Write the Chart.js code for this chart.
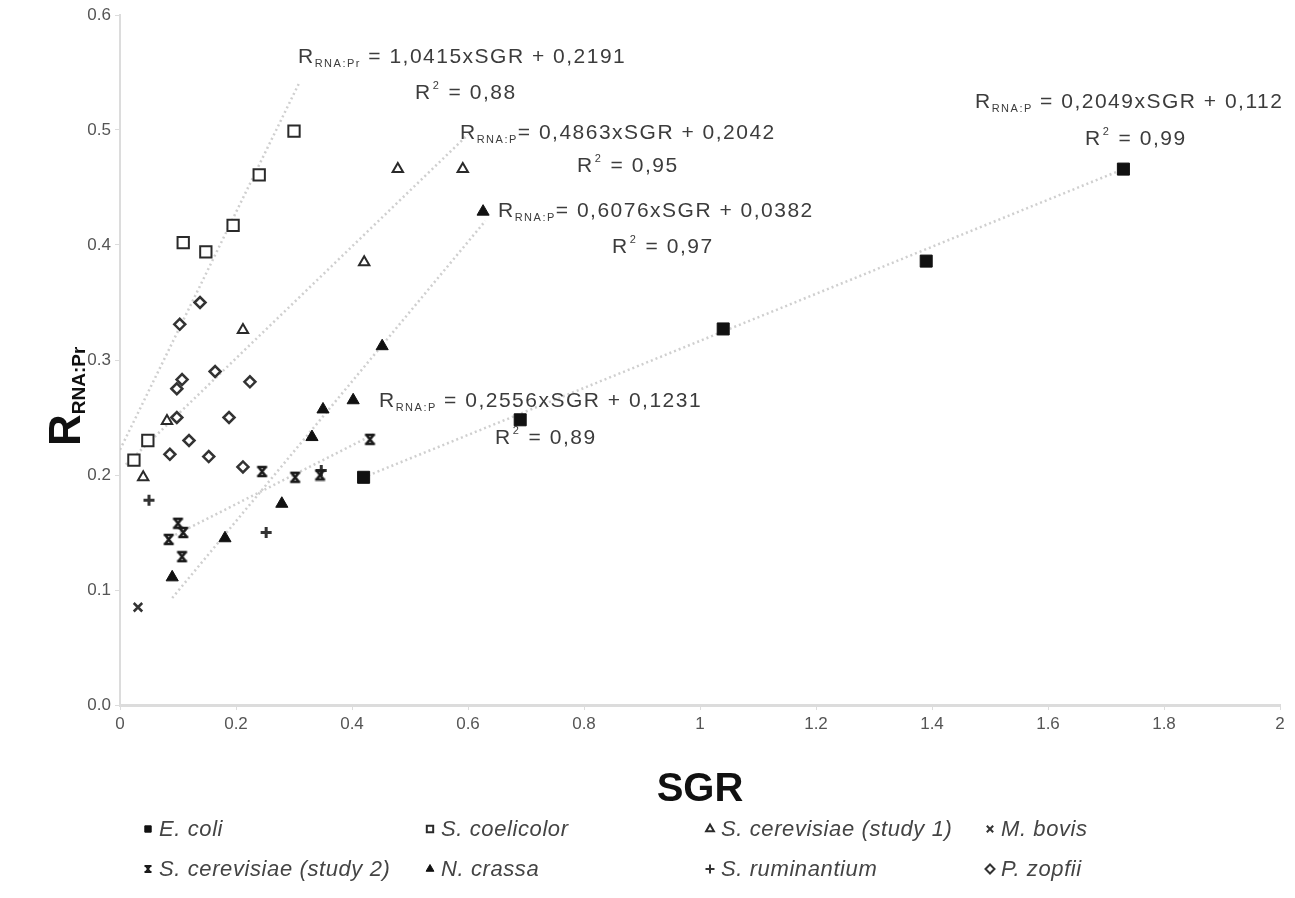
<!DOCTYPE html>
<html>
<head>
<meta charset="utf-8">
<script src="https://cdn.jsdelivr.net/npm/chart.js@4.4.1/dist/chart.umd.min.js"></script>
<style>
html,body{margin:0;padding:0;background:#fff;}
#wrap{width:1295px;height:898px;position:relative;}
</style>
</head>
<body>
<div id="wrap"><canvas id="chart"></canvas></div>
<script>
// values: [SGR, R_RNA:Pr]
const eColi = [[0.42,0.198],[0.69,0.248],[1.04,0.327],[1.39,0.386],[1.73,0.466]];
const sCoelicolor = [[0.024,0.213],[0.048,0.230],[0.109,0.402],[0.148,0.394],[0.195,0.417],[0.240,0.461],[0.300,0.499]];
const sCerevisiae1 = [[0.040,0.198],[0.081,0.247],[0.212,0.326],[0.421,0.385],[0.479,0.466],[0.591,0.466]];
const mBovis = [[0.031,0.085]];
const sCerevisiae2 = [[0.084,0.144],[0.100,0.158],[0.109,0.150],[0.107,0.129],[0.245,0.203],[0.302,0.198],[0.345,0.200],[0.431,0.231]];
const nCrassa = [[0.090,0.111],[0.181,0.145],[0.279,0.175],[0.331,0.233],[0.350,0.257],[0.402,0.265],[0.452,0.312],[0.626,0.429]];
const sRuminantium = [[0.050,0.178],[0.252,0.150],[0.347,0.204]];
const pZopfii = [[0.103,0.331],[0.138,0.350],[0.164,0.290],[0.224,0.281],[0.107,0.283],[0.098,0.275],[0.098,0.250],[0.188,0.250],[0.119,0.230],[0.086,0.218],[0.153,0.216],[0.212,0.207]];

// dotted trend lines, end points
const trendCoelicolor = [[0.0,0.222],[0.31,0.542]];
const trendCerevisiae1 = [[0.01,0.209],[0.60,0.496]];
const trendCrassa = [[0.09,0.093],[0.63,0.421]];
const trendCerevisiae2 = [[0.08,0.144],[0.44,0.236]];
const trendColi = [[0.42,0.198],[1.74,0.468]];

const seriesNames = ['E. coli','S. coelicolor','S. cerevisiae (study 1)','M. bovis','S. cerevisiae (study 2)','N. crassa','S. ruminantium','P. zopfii'];

const xTicks = [0,0.2,0.4,0.6,0.8,1,1.2,1.4,1.6,1.8,2];
const xTickLabels = ['0','0.2','0.4','0.6','0.8','1','1.2','1.4','1.6','1.8','2'];
const yTicks = [0,0.1,0.2,0.3,0.4,0.5,0.6];
const yTickLabels = ['0.0','0.1','0.2','0.3','0.4','0.5','0.6'];

const eqSubs = ['RNA:Pr','RNA:P','RNA:P','RNA:P','RNA:P'];
const eqRight = [' = 1,0415xSGR + 0,2191','= 0,4863xSGR + 0,2042','= 0,6076xSGR + 0,0382',' = 0,2556xSGR + 0,1231',' = 0,2049xSGR + 0,112'];
const r2Values = [' = 0,88',' = 0,95',' = 0,97',' = 0,89',' = 0,99'];

const FONT = '"Liberation Sans", Arial, sans-serif';

function hourglass(size){
  const c=document.createElement('canvas');
  c.width=size;c.height=size;
  const g=c.getContext('2d');
  const m=1.5, s=size-1.5;
  g.strokeStyle='#1a1a1a';g.fillStyle='#1a1a1a';
  g.lineWidth=size/5;
  g.beginPath();
  g.moveTo(m,m+0.5);g.lineTo(s,m+0.5);
  g.moveTo(m,s-0.5);g.lineTo(s,s-0.5);
  g.moveTo(m+1,m);g.lineTo(s-1,s);
  g.moveTo(s-1,m);g.lineTo(m+1,s);
  g.stroke();
  return c;
}
const hgBig = hourglass(13);
const hgSmall = hourglass(10);

const toPts = arr => arr.map(p=>({x:p[0],y:p[1]}));

const styles = [
  {pointStyle:'rect',pointRadius:8.5,backgroundColor:'#111',borderColor:'#111',borderWidth:1},
  {pointStyle:'rect',pointRadius:8,backgroundColor:'#fff',borderColor:'#2a2a2a',borderWidth:2},
  {pointStyle:'triangle',pointRadius:6,backgroundColor:'#fff',borderColor:'#2a2a2a',borderWidth:2},
  {pointStyle:'crossRot',pointRadius:6,backgroundColor:'#333',borderColor:'#333',borderWidth:2.5},
  {pointStyle:hgBig,pointRadius:6,backgroundColor:'#111',borderColor:'#111',borderWidth:1},
  {pointStyle:'triangle',pointRadius:7,backgroundColor:'#111',borderColor:'#111',borderWidth:1},
  {pointStyle:'cross',pointRadius:5.5,backgroundColor:'#333',borderColor:'#333',borderWidth:3},
  {pointStyle:'rectRot',pointRadius:5.5,backgroundColor:'#fff',borderColor:'#333',borderWidth:2.5}
];
const seriesData = [eColi,sCoelicolor,sCerevisiae1,mBovis,sCerevisiae2,nCrassa,sRuminantium,pZopfii];

const datasets = seriesData.map((d,i)=>Object.assign({
  type:'scatter',label:seriesNames[i],data:toPts(d),order:1
},styles[i]));

[trendCoelicolor,trendCerevisiae1,trendCrassa,trendCerevisiae2,trendColi].forEach(t=>{
  datasets.push({
    type:'line',label:'trend',data:toPts(t),order:5,
    borderColor:'rgba(195,195,195,0.8)',borderWidth:2.5,borderDash:[2,3],
    pointRadius:0,fill:false,tension:0
  });
});

function drawEq(ctx,x,y,sub,rest){
  ctx.textAlign='left';ctx.textBaseline='alphabetic';
  ctx.font='21px '+FONT;
  ctx.fillText('R',x,y);
  let w=ctx.measureText('R').width;
  ctx.font='11px '+FONT;
  ctx.fillText(sub,x+w,y+4);
  w+=ctx.measureText(sub).width;
  ctx.font='21px '+FONT;
  ctx.fillText(rest,x+w,y);
}
function drawR2(ctx,x,y,rest){
  ctx.font='21px '+FONT;
  ctx.fillText('R',x,y);
  let w=ctx.measureText('R').width;
  ctx.font='11px '+FONT;
  ctx.fillText('2',x+w+1,y-10);
  w+=ctx.measureText('2').width+2;
  ctx.font='21px '+FONT;
  ctx.fillText(rest,x+w,y);
}

// left x, baseline y of equation, then of R² line
const eqPlace = [[298,63,415,99],[460,139,577,172],[498,217,612,253],[379,407,495,444],[975,108,1085,145]];
const legendCols = [148,430,710,990];
const legendRows = [829,869];

const overlay = {
  id:'overlay',
  afterDraw(chart){
    const ctx=chart.ctx;
    ctx.save();
    ctx.fillStyle='#3c3c3c';
    if('letterSpacing' in ctx) ctx.letterSpacing='1.5px';
    eqPlace.forEach((p,i)=>{
      drawEq(ctx,p[0],p[1],eqSubs[i],eqRight[i]);
      drawR2(ctx,p[2],p[3],r2Values[i]);
    });
    if('letterSpacing' in ctx) ctx.letterSpacing='0px';

    // x title
    ctx.fillStyle='#111';
    ctx.font='bold 40px '+FONT;
    ctx.textAlign='center';ctx.textBaseline='middle';
    ctx.fillText('SGR',(chart.chartArea.left+chart.chartArea.right)/2,790);

    // y title, rotated
    ctx.save();
    ctx.translate(80,446);
    ctx.rotate(-Math.PI/2);
    ctx.textAlign='left';ctx.textBaseline='alphabetic';
    ctx.font='bold 44px '+FONT;
    ctx.fillText('R',0,0);
    const rw=ctx.measureText('R').width;
    ctx.font='bold 19px '+FONT;
    ctx.fillText('RNA:Pr',rw,5);
    ctx.restore();

    // legend
    ctx.textAlign='left';ctx.textBaseline='middle';
    if('letterSpacing' in ctx) ctx.letterSpacing='0.6px';
    seriesNames.forEach((name,i)=>{
      const x=legendCols[i%4], y=legendRows[Math.floor(i/4)];
      const st=styles[i];
      ctx.fillStyle=st.backgroundColor;ctx.strokeStyle=st.borderColor;
      ctx.lineWidth=Math.min(st.borderWidth,2);
      const ps = st.pointStyle===hgBig ? hgSmall : st.pointStyle;
      Chart.helpers.drawPoint(ctx,{pointStyle:ps,radius:4.5,rotation:0,borderWidth:ctx.lineWidth},x,y);
      ctx.fillStyle='#444';
      ctx.font='italic 22px '+FONT;
      ctx.fillText(name,x+11,y+1);
    });
    ctx.restore();
  }
};

new Chart(document.getElementById('chart'),{
  data:{datasets},
  options:{
    responsive:true,maintainAspectRatio:false,animation:false,
    layout:{padding:{top:15,right:15,left:0,bottom:0}},
    plugins:{legend:{display:false},tooltip:{enabled:false}},
    scales:{
      x:{
        type:'linear',min:0,max:2,
        afterBuildTicks:s=>{s.ticks=xTicks.map(v=>({value:v}));},
        afterFit:s=>{s.height=193;},
        ticks:{callback:(v,i)=>xTickLabels[i],color:'#555',font:{family:FONT,size:17},padding:4,maxRotation:0},
        grid:{display:true,drawOnChartArea:false,drawTicks:true,tickLength:5,color:'#dcdcdc'},
        border:{color:'#dcdcdc',width:3}
      },
      y:{
        type:'linear',min:0,max:0.6,
        afterBuildTicks:s=>{s.ticks=yTicks.map(v=>({value:v}));},
        afterFit:s=>{s.width=120;},
        ticks:{callback:(v,i)=>yTickLabels[i],color:'#555',font:{family:FONT,size:17},padding:4},
        grid:{display:true,drawOnChartArea:false,drawTicks:true,tickLength:5,color:'#dcdcdc'},
        border:{color:'#dcdcdc',width:2}
      }
    }
  },
  plugins:[overlay]
});
</script>
</body>
</html>
